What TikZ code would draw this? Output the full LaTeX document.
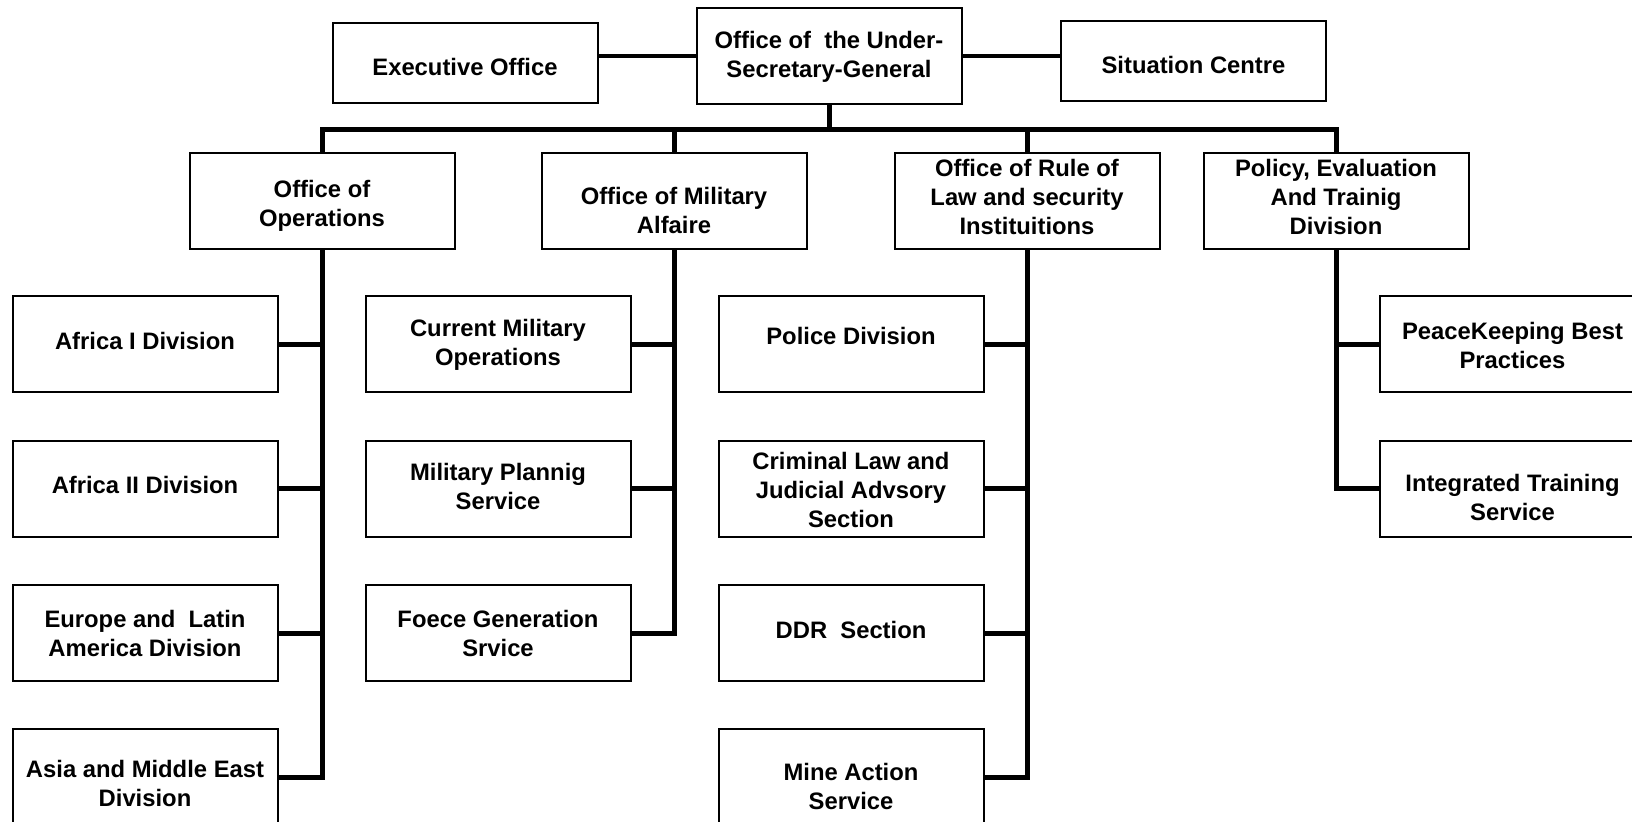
\documentclass[tikz,border=0pt]{standalone}
\usepackage{fontspec}
\setmainfont{Liberation Sans}
\usetikzlibrary{positioning,calc}
\tikzset{
  unit/.style={draw,line width=1pt,fill=white,minimum width=132.5pt,
               minimum height=48pt,inner sep=0pt},
  smallunit/.style={unit,minimum height=40pt},
  unittext/.style={align=center,inner sep=0pt,yshift=-0.6pt,
               font=\bfseries\fontsize{11.9}{14.4}\selectfont},
  link/.style={line width=2.5pt},
  toplink/.style={line width=2pt},
}
% box (#2) at (#3,#4), its text shifted by #5
\newcommand{\orgunit}[6][unit]{%
  \node[#1] (#2) at (#3,#4) {};
  \node[unittext] (#2t) at ($(#2)+(0,#5)$) {#6};
}

\begin{document}
\begin{tikzpicture}[x=0.5pt,y=-0.5pt]
  \useasboundingbox (0,0) rectangle (1632,821);
  % top row
  \orgunit[smallunit]{exec}{465}{63}{2.5}{Executive Office}
  \orgunit{usg}{829}{56}{0}{Office of\ \ the Under-\\Secretary-General}
  \orgunit[smallunit]{sit}{1193.5}{61}{2.5}{Situation Centre}
  \draw[toplink] (usg.west) -- (usg.west -| exec.east);
  \draw[toplink] (usg.east) -- (usg.east -| sit.west);
  % offices
  \orgunit{ops}{322}{201}{4}{Office of\\Operations}
  \orgunit{mil}{674}{201}{8.5}{Office of Military\\Alfaire}
  \orgunit{rule}{1027}{201}{-5}{Office of Rule of\\Law and security\\Instituitions}
  \orgunit{pol}{1336}{201}{-5}{Policy, Evaluation\\And Trainig\\Division}
  \coordinate (bar) at (829,129);
  \draw[link] (usg.south) -- (bar);
  \draw[link] (ops.north) |- (bar) -| (pol.north);
  \draw[link] (mil.north) -- (mil.north |- bar);
  \draw[link] (rule.north) -- (rule.north |- bar);
  % operations
  \orgunit{afrA}{145}{344}{-4}{Africa I Division}
  \orgunit{afrB}{145}{488.5}{-5}{Africa II Division}
  \orgunit{eur}{145}{633}{-1}{Europe and\ \ Latin\\America Division}
  \orgunit{asia}{145}{777}{5}{Asia and Middle East\\Division}
  % military
  \orgunit{curr}{498}{344}{0}{Current Military\\Operations}
  \orgunit{plan}{498}{488.5}{-3}{Military Plannig\\Service}
  \orgunit{force}{498}{633}{-1}{Foece Generation\\Srvice}
  % rule of law
  \orgunit{police}{851}{344}{-9}{Police Division}
  \orgunit{crim}{851}{488.5}{0}{Criminal Law and\\Judicial Advsory\\Section}
  \orgunit{ddr}{851}{633}{-4}{DDR\ \ Section}
  \orgunit{mine}{851}{777}{8}{Mine Action\\Service}
  % policy
  \orgunit{best}{1512.5}{344}{0}{PeaceKeeping Best\\Practices}
  \orgunit{train}{1512.5}{488.5}{8}{Integrated Training\\Service}
  % links
  \foreach \c in {afrA,afrB,eur,asia}
    \draw[link] (ops.south) |- (\c.east);
  \foreach \c in {curr,plan,force}
    \draw[link] (mil.south) |- (\c.east);
  \foreach \c in {police,crim,ddr,mine}
    \draw[link] (rule.south) |- (\c.east);
  \foreach \c in {best,train}
    \draw[link] (pol.south) |- (\c.west);
\end{tikzpicture}
\end{document}
